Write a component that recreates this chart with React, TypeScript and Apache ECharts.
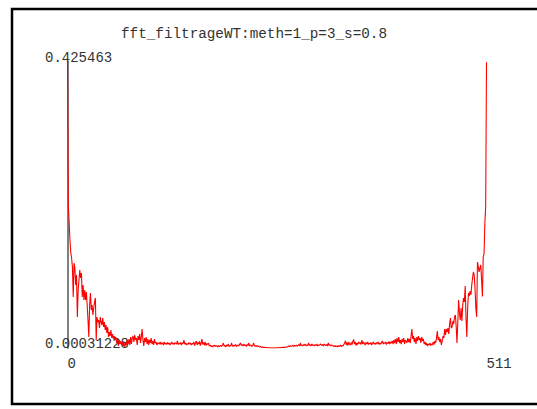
import React, { useEffect, useRef } from "react";
import * as echarts from "echarts";

const TITLE = "fft_filtrageWT:meth=1_p=3_s=0.8";
const Y_MIN = 0.00031228;
const Y_MAX = 0.425463;
const X_MIN = 0;
const X_MAX = 511;
const yTickLabels = ["0.00031228", "0.425463"];
const xTickLabels = ["0", "511"];

// spectrum magnitudes, index 0..511
const segA = [
  0.425463, 0.2129, 0.1877, 0.1609, 0.1416, 0.1341, 0.1208, 0.0761, 0.1267, 0.1193,
  0.094, 0.1089, 0.0464, 0.0865, 0.1014, 0.1163, 0.1044, 0.1118, 0.0761, 0.094,
  0.0717, 0.0865, 0.0717, 0.0836, 0.0642, 0.0419, 0.0167, 0.0642, 0.0821, 0.0568,
  0.0642, 0.0494, 0.0598, 0.0687, 0.0747, 0.0122, 0.0464, 0.039, 0.0419, 0.03,
  0.0464, 0.039, 0.0345, 0.0449, 0.0315, 0.039, 0.0271, 0.0345, 0.0226, 0.0315,
];
const segB = [
  0.0167, 0.0241, 0.0181, 0.0271, 0.0152, 0.0211, 0.0137, 0.0181, 0.0122, 0.0167,
  0.0077, 0.0137, 0.0033, 0.0122, 0.0062, 0.0107, 0.0048, 0.0092, 0.0033, 0.0077,
  0.0018, 0.0092, 0.0048, 0.0122, 0.0062, 0.0137, 0.0048, 0.0167, 0.0062, 0.0152,
  0.0181, 0.0092, 0.0196, 0.0122, 0.0152, 0.0048, 0.0181, 0.0122, 0.0211, 0.0077,
  0.0167, 0.0286, 0.0122, 0.0033, 0.0152, 0.0092, 0.0167, 0.0062, 0.0137, 0.0048,
  0.0122, 0.0077, 0.0152, 0.0062, 0.0107, 0.0048, 0.0137, 0.0077, 0.0092, 0.0048,
  0.0077,
];
const segC = [
  0.0077, 0.0062, 0.0092, 0.0055, 0.0085, 0.007, 0.0048, 0.0092, 0.0062, 0.0077,
  0.0055, 0.0085, 0.0062, 0.0077, 0.0048, 0.007, 0.0092, 0.0062, 0.0077, 0.0055,
  0.0085, 0.007, 0.0062, 0.0107, 0.0055, 0.0077, 0.0062, 0.0085, 0.0048, 0.0077,
  0.007, 0.0122, 0.0062, 0.0077, 0.0048, 0.007, 0.0055, 0.0085, 0.0062, 0.0077,
  0.0048, 0.007, 0.0062, 0.0092, 0.004, 0.0077, 0.0107, 0.0048, 0.0085, 0.0062,
  0.01, 0.004, 0.0077, 0.0137, 0.0055, 0.0085, 0.0048, 0.0092, 0.004, 0.007,
  0.0055, 0.0077,
];
const segD = [
  0.0033, 0.0048, 0.0025, 0.004, 0.0018, 0.0033, 0.0048, 0.0025, 0.004, 0.0033,
  0.0018, 0.004, 0.0025, 0.0033, 0.004, 0.0025, 0.0048, 0.0077, 0.0033, 0.004,
  0.0018, 0.0048, 0.0033, 0.0062, 0.0025, 0.004, 0.0033, 0.0077, 0.004, 0.0025,
  0.0048, 0.0033, 0.0055, 0.0025, 0.004, 0.0048, 0.0033, 0.0062, 0.0077, 0.004,
  0.0055, 0.0033, 0.0062, 0.004, 0.0048, 0.0025, 0.0055, 0.004, 0.0077, 0.0033,
  0.0048, 0.004, 0.0025, 0.0048, 0.0077, 0.0033, 0.004, 0.0025, 0.004, 0.0033,
  0.0025, 0.0018, 0.0025, 0.0018, 0.0012, 0.0018, 0.0012, 0.0015, 0.001, 0.0012,
  0.0008, 0.001, 0.0006, 0.0008, 0.0005, 0.0006, 0.0004, 0.0005, 0.0003, 0.0004,
  0.0005, 0.0004, 0.0006, 0.0005, 0.0007, 0.0006, 0.0009, 0.0008, 0.0011, 0.001,
  0.0013, 0.0012, 0.0016, 0.0014, 0.0019, 0.0017,
];
const segE = [
  0.0025, 0.0033, 0.0022, 0.004, 0.0028, 0.0033, 0.0048, 0.0025, 0.004, 0.0033,
  0.0048, 0.0028, 0.004, 0.0055, 0.0033, 0.0077, 0.004, 0.0048, 0.0033, 0.0055,
  0.004, 0.0062, 0.0033, 0.0048, 0.004, 0.008, 0.004, 0.0055, 0.0033, 0.0062,
  0.004, 0.0048, 0.0033, 0.0055, 0.004, 0.0062, 0.0033, 0.0048, 0.004, 0.0055,
  0.0062, 0.004, 0.0055, 0.0033, 0.0062, 0.0048, 0.004, 0.0055, 0.0033, 0.008,
  0.004, 0.0055, 0.0033, 0.0048, 0.004, 0.0033, 0.0025, 0.004, 0.0025, 0.0033,
  0.0018, 0.004, 0.0025, 0.0033, 0.0048, 0.0025, 0.004, 0.0033, 0.0055, 0.0077,
  0.011, 0.0048, 0.0085, 0.004, 0.0092, 0.0062, 0.0048, 0.0085, 0.0055, 0.01,
  0.013, 0.0062, 0.0092, 0.004, 0.0077, 0.0055, 0.0092,
];
const segF = [
  0.007, 0.0085, 0.0055, 0.0122, 0.0062, 0.0092, 0.007, 0.0048, 0.0085, 0.0062,
  0.0092, 0.0055, 0.0077, 0.0062, 0.0085, 0.0048, 0.0077, 0.0092, 0.0062, 0.0077,
  0.0055, 0.0085, 0.007, 0.0092, 0.0055, 0.0077, 0.0062, 0.0085, 0.0107, 0.0062,
  0.0085, 0.007, 0.0092, 0.0055, 0.0085, 0.007, 0.01, 0.0062, 0.0092, 0.0077,
  0.0107, 0.0062, 0.0122, 0.0077, 0.0137, 0.0062, 0.0152, 0.0092, 0.0167, 0.0077,
  0.0122, 0.0062, 0.0137, 0.0092, 0.0152, 0.0062, 0.0122, 0.0107, 0.0077, 0.0152,
  0.0092, 0.0137, 0.0077, 0.0181, 0.0286, 0.0137, 0.0181, 0.0092, 0.0152, 0.0062,
  0.0167, 0.0107, 0.0181, 0.0122, 0.0152, 0.0077, 0.0167, 0.0107, 0.0137, 0.0062,
  0.0092, 0.0048, 0.0077, 0.0033, 0.0062, 0.0048, 0.0077, 0.004, 0.0062, 0.0048,
  0.0092, 0.0055, 0.0107,
];
const segG = [
  0.0077, 0.0152, 0.0256, 0.0122, 0.0167, 0.0092, 0.0137, 0.0048, 0.0107, 0.0181,
  0.0152, 0.0286, 0.0196, 0.0286, 0.0241, 0.03, 0.0211, 0.036, 0.0449, 0.03,
  0.0315, 0.0405, 0.036, 0.0464, 0.0494, 0.033, 0.0077, 0.039, 0.0717, 0.0523,
  0.0419, 0.0598, 0.0405, 0.0642, 0.0747, 0.0687, 0.0926, 0.0449, 0.0167, 0.0598,
  0.0821, 0.0776, 0.085, 0.0791, 0.094, 0.1044, 0.1133, 0.1089, 0.0895, 0.0598,
  0.0464, 0.1282, 0.1208, 0.1133, 0.1193, 0.1237, 0.102, 0.0768, 0.1357, 0.14,
  0.1857, 0.2107, 0.425,
];

const magnitudes = [...segA, ...segB, ...segC, ...segD, ...segE, ...segF, ...segG];

const FONT = "'Liberation Mono', 'Courier New', monospace";

export default function App() {
  const ref = useRef<HTMLDivElement>(null);
  useEffect(() => {
    if (!ref.current) return;
    const chart = echarts.init(ref.current, null, { renderer: "svg" });
    const data = magnitudes.map((v, i) => [i, v]);
    chart.setOption({
      animation: false,
      backgroundColor: "#ffffff",
      title: {
        text: TITLE,
        left: 121,
        top: 27,
        padding: 0,
        textStyle: { fontFamily: FONT, fontSize: 14.3, fontWeight: "normal", color: "#333" },
      },
      graphic: [
        {
          type: "rect",
          shape: { x: 12, y: 9, width: 620, height: 395 },
          style: { fill: "none", stroke: "#000", lineWidth: 2.5 },
          silent: true,
        },
      ],
      grid: { left: 67.5, right: 50.5, top: 62, bottom: 61, containLabel: false },
      xAxis: {
        type: "value",
        min: X_MIN,
        max: X_MAX,
        axisLine: { show: false },
        axisTick: { show: false },
        splitLine: { show: false },
        axisLabel: {
          showMinLabel: true,
          showMaxLabel: true,
          align: "left",
          verticalAlign: "middle",
          margin: 16,
          fontFamily: FONT,
          fontSize: 14,
          color: "#333",
          formatter: (v: number) =>
            v === X_MIN ? xTickLabels[0] : v === X_MAX ? xTickLabels[1] : "",
        },
      },
      yAxis: {
        type: "value",
        min: Y_MIN,
        max: Y_MAX,
        offset: 1,
        axisLine: { show: true, lineStyle: { color: "#808080", width: 2 } },
        axisTick: { show: false },
        splitLine: { show: false },
        axisLabel: {
          showMinLabel: true,
          showMaxLabel: true,
          align: "left",
          verticalAlign: "bottom",
          lineHeight: 9,
          margin: 21.5,
          fontFamily: FONT,
          fontSize: 14,
          color: "#333",
          formatter: (v: number) =>
            v === Y_MIN ? yTickLabels[0] : v === Y_MAX ? yTickLabels[1] : "",
        },
      },
      series: [
        {
          type: "line",
          data,
          showSymbol: false,
          symbol: "none",
          lineStyle: { color: "#ff0000", width: 1.1 },
          itemStyle: { color: "#ff0000" },
        },
      ],
    });
    return () => chart.dispose();
  }, []);
  return (
    <div
      ref={ref}
      style={{ position: "fixed", left: 0, top: 0, width: 537, height: 409, background: "#fff" }}
    />
  );
}
